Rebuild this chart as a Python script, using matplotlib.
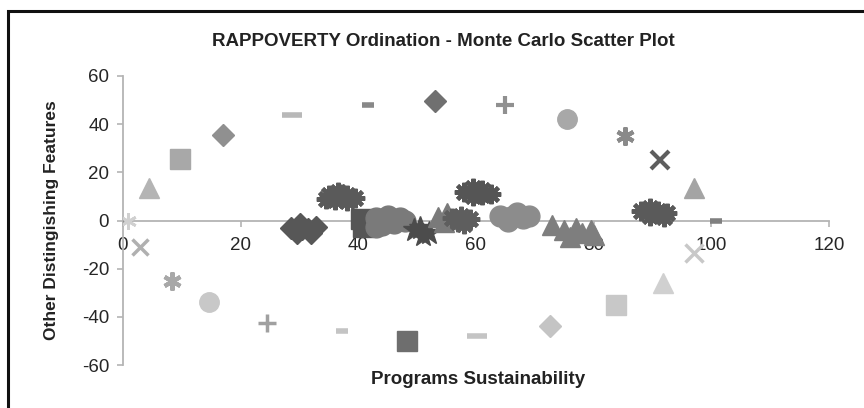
import matplotlib
matplotlib.use("Agg")
import matplotlib.pyplot as plt
from matplotlib.patches import Rectangle

plt.rcParams['font.family'] = ['Liberation Sans', 'DejaVu Sans']
plt.rcParams['axes.unicode_minus'] = False

# ---------------- data ----------------
title = "RAPPOVERTY Ordination - Monte Carlo Scatter Plot"
x_label = "Programs Sustainability"
y_label = "Other Distingishing Features"
x_ticks = [0, 20, 40, 60, 80, 100, 120]
y_ticks = [-60, -40, -20, 0, 20, 40, 60]

# anchor points on the ring (real-world scale extremes)
ring_x = [-0.8, 0.9, 2.9, 8.3, 14.6, 24.5, 37.2, 48.3, 60.2, 72.6, 83.8, 91.7,
          97.1, 100.8, 97.1, 91.3, 85.4, 75.5, 65.0, 53.0, 41.7, 28.7, 17.0,
          9.7, 4.4]
ring_y = [0.0, 0.0, -11.0, -25.0, -34.0, -42.7, -46.0, -50.0, -48.0, -43.6,
          -35.0, -26.0, -13.7, 0.0, 13.3, 25.3, 35.0, 42.0, 48.0, 49.5, 48.0,
          43.6, 35.7, 25.7, 13.7]

# Monte Carlo replicate clouds
cloudA_x = [28.5, 30.0, 31.5, 32.8, 29.5, 32.0, 30.5]
cloudA_y = [-3.0, -1.5, -3.5, -2.5, -5.0, -5.0, -3.5]
cloudB_x = [35.0, 36.5, 38.0, 36.0, 38.0, 37.0, 39.5, 34.5]
cloudB_y = [10.5, 12.0, 10.5, 8.5, 8.0, 11.0, 9.5, 9.0]
cloudC_x = [40.5, 40.8]
cloudC_y = [0.5, -2.5]
cloudD_x = [43.0, 45.0, 47.0, 44.0, 46.0, 48.0, 43.0]
cloudD_y = [1.0, 2.0, 1.0, -2.0, -1.0, 0.0, -2.5]
cloudE_x = [49.5, 51.0, 50.5, 52.0]
cloudE_y = [-4.0, -6.0, -3.0, -5.0]
cloudF_x = [53.5, 55.0, 56.0, 54.5]
cloudF_y = [1.5, 3.0, 0.5, -0.5]
cloudG_x = [56.0, 57.5, 59.0, 58.0, 57.0]
cloudG_y = [1.0, 2.0, 0.5, -1.5, -0.5]
cloudH_x = [58.0, 59.5, 61.0, 62.5, 59.5, 61.0, 60.0]
cloudH_y = [12.0, 13.5, 12.5, 11.0, 10.0, 10.5, 11.5]
cloudI_x = [64.0, 66.0, 68.0, 65.5, 67.0, 69.0]
cloudI_y = [2.0, 1.5, 1.0, 0.0, 3.0, 2.0]
cloudJ_x = [73.0, 75.0, 77.0, 78.0, 79.5, 76.0, 80.0]
cloudJ_y = [-2.0, -4.0, -3.0, -5.0, -4.0, -7.0, -6.0]
cloudK_x = [88.0, 89.5, 91.0, 92.5, 89.5, 92.0, 90.5]
cloudK_y = [4.0, 2.0, 4.0, 3.0, 5.0, 1.5, 3.0]

# ---------------- styles ----------------
AST = (6, 2, 0)      # asterisk
BURST = (8, 2, 0)
ring_style = [
    ('_', '#909090', 9, 4), (AST, '#d0d0d0', 12, 2), ('x', '#b0b0b0', 12, 2.5),
    (AST, '#a8a8a8', 13, 3), ('o', '#c8c8c8', 14, 1), ('+', '#a0a0a0', 13, 2.5),
    ('_', '#c4c4c4', 9, 4), ('s', '#6e6e6e', 15, 1), ('_', '#c4c4c4', 15, 4),
    ('D', '#c4c4c4', 11, 1), ('s', '#c8c8c8', 15, 1), ('^', '#d0d0d0', 15, 1),
    ('x', '#c8c8c8', 13, 2.5), ('_', '#808080', 9, 4), ('^', '#a4a4a4', 15, 1),
    ('x', '#5e5e5e', 13, 3), (AST, '#8a8a8a', 13, 3), ('o', '#a8a8a8', 14, 1),
    ('+', '#909090', 13, 3), ('D', '#707070', 11, 1), ('_', '#888888', 9, 4),
    ('_', '#b8b8b8', 15, 4), ('D', '#909090', 11, 1), ('s', '#a8a8a8', 15, 1),
    ('^', '#b4b4b4', 15, 1),
]

fig = plt.figure(figsize=(8.64, 4.08), dpi=100)
ax = fig.add_axes([123/864, 43/408, 706/864, 289/408])

for xv, yv, st in zip(ring_x, ring_y, ring_style):
    m, c, s, mew = st
    ax.plot([xv], [yv], linestyle='none', marker=m, color=c, ms=s,
            mew=mew, mec=c, zorder=3)

clouds = [
    (cloudA_x, cloudA_y, 'D', '#575757', 11, 1),
    (cloudB_x, cloudB_y, BURST, '#5a5a5a', 14, 3),
    (cloudC_x, cloudC_y, 's', '#555555', 14, 1),
    (cloudD_x, cloudD_y, 'o', '#7a7a7a', 15, 1),
    (cloudE_x, cloudE_y, '*', '#4c4c4c', 17, 1),
    (cloudF_x, cloudF_y, '^', '#7a7a7a', 14, 1),
    (cloudG_x, cloudG_y, BURST, '#5e5e5e', 14, 3),
    (cloudH_x, cloudH_y, BURST, '#555555', 14, 3),
    (cloudI_x, cloudI_y, 'o', '#8c8c8c', 15, 1),
    (cloudJ_x, cloudJ_y, '^', '#7e7e7e', 14, 1),
    (cloudK_x, cloudK_y, BURST, '#5a5a5a', 14, 3),
]
for xs, ys, m, c, s, mew in clouds:
    ax.plot(xs, ys, linestyle='none', marker=m, color=c, ms=s, mew=mew,
            mec=c, zorder=4)

ax.set_xlim(0, 120)
ax.set_ylim(-60, 60)
ax.set_xticks(x_ticks)
ax.set_yticks(y_ticks)
ax.spines['left'].set_position(('data', 0))
ax.spines['bottom'].set_position(('data', 0))
ax.spines['right'].set_visible(False)
ax.spines['top'].set_visible(False)
for sp in ('left', 'bottom'):
    ax.spines[sp].set_color('#b4b4b4')
    ax.spines[sp].set_linewidth(1.3)
    ax.spines[sp].set_zorder(2)
ax.tick_params(axis='both', direction='out', color='#b4b4b4', length=4,
               width=1.2, labelsize=13.5, labelcolor='#262626')
ax.tick_params(axis='x', pad=8)
ax.tick_params(axis='y', pad=6)
ax.patch.set_alpha(0)

fig.text(443/864, 1 - 42/408, title, ha='center', va='center',
         fontsize=13.5, fontweight='bold', color='#222222')
fig.text(478/864, 1 - 380/408, x_label, ha='center', va='center',
         fontsize=13.5, fontweight='bold', color='#222222')
fig.text(52/864, 1 - 220/408, y_label, ha='center', va='center',
         rotation=90, fontsize=12.5, fontweight='bold', color='#222222')

fig.patches.append(Rectangle((8/864, -0.2), 1.2, 1.2 - 11/408,
                             transform=fig.transFigure, fill=False,
                             edgecolor='#111111', linewidth=2.2))

fig.savefig('out.png', dpi=100)
